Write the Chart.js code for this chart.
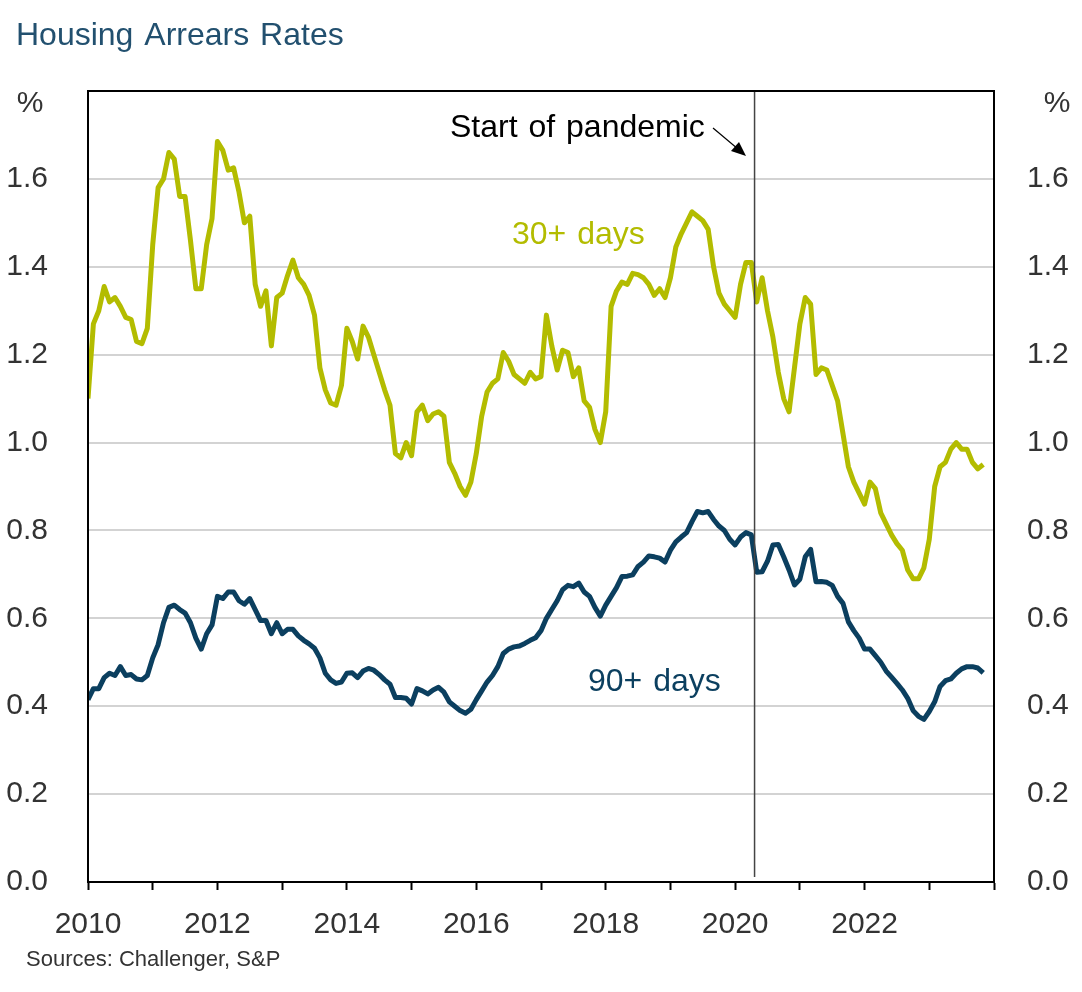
<!DOCTYPE html>
<html>
<head>
<meta charset="utf-8">
<script src="https://cdn.jsdelivr.net/npm/chart.js@4.4.1/dist/chart.umd.min.js"></script>
<style>
  html, body { margin: 0; padding: 0; background: #fff; }
  #wrap { width: 1082px; height: 992px; }
</style>
</head>
<body>
<div id="wrap"><canvas id="myChart" width="1082" height="992"></canvas></div>
<script>
// monthly, Jan 2010 onwards
const startYear = 2010;

const arrears30 = [
  1.10, 1.27, 1.30, 1.355, 1.32, 1.33, 1.31, 1.285, 1.28, 1.23, 1.225, 1.26,
  1.45, 1.58, 1.60, 1.66, 1.645, 1.56, 1.56, 1.46, 1.35, 1.35, 1.45, 1.51,
  1.685, 1.665, 1.62, 1.625, 1.57, 1.50, 1.515, 1.36, 1.31, 1.345, 1.22, 1.33,
  1.34, 1.38, 1.415, 1.375, 1.36, 1.335, 1.29, 1.17, 1.12, 1.09, 1.085, 1.13,
  1.26, 1.23, 1.19, 1.265, 1.24, 1.20, 1.16, 1.12, 1.085, 0.975, 0.965, 1.00,
  0.97, 1.07, 1.085, 1.05, 1.065, 1.07, 1.06, 0.955, 0.93, 0.90, 0.88, 0.91,
  0.975, 1.06, 1.115, 1.135, 1.145, 1.205, 1.185, 1.155, 1.145, 1.135, 1.16, 1.145,
  1.15, 1.29, 1.22, 1.165, 1.21, 1.205, 1.15, 1.17, 1.095, 1.08, 1.03, 1.00,
  1.07, 1.31, 1.345, 1.365, 1.36, 1.385, 1.382, 1.375, 1.36, 1.335, 1.35, 1.33,
  1.375, 1.445, 1.475, 1.50, 1.525, 1.515, 1.505, 1.485, 1.40, 1.34, 1.315, 1.30,
  1.285, 1.36, 1.41, 1.41, 1.32, 1.375, 1.30, 1.24, 1.16, 1.10, 1.07, 1.17,
  1.27, 1.33, 1.315, 1.155, 1.17, 1.165, 1.13, 1.095, 1.02, 0.945, 0.91, 0.885,
  0.86, 0.91, 0.895, 0.84, 0.815, 0.79, 0.77, 0.755, 0.71, 0.69, 0.69, 0.715,
  0.78, 0.90, 0.945, 0.955, 0.985, 1.00, 0.985, 0.985, 0.955, 0.94, 0.95
];

const arrears90 = [
  0.415, 0.44, 0.44, 0.465, 0.475, 0.47, 0.49, 0.47, 0.472, 0.462, 0.46, 0.47,
  0.51, 0.54, 0.59, 0.625, 0.63, 0.62, 0.612, 0.59, 0.555, 0.53, 0.565, 0.585,
  0.65, 0.645, 0.66, 0.66, 0.64, 0.632, 0.645, 0.62, 0.595, 0.595, 0.565, 0.59,
  0.565, 0.575, 0.575, 0.56, 0.55, 0.542, 0.532, 0.51, 0.475, 0.46, 0.452, 0.455,
  0.475, 0.476, 0.465, 0.48, 0.486, 0.482, 0.472, 0.46, 0.45, 0.42, 0.42, 0.418,
  0.405, 0.44, 0.435, 0.428, 0.437, 0.443, 0.432, 0.41, 0.40, 0.39, 0.384, 0.393,
  0.415, 0.435, 0.455, 0.47, 0.49, 0.52, 0.53, 0.535, 0.537, 0.543, 0.55, 0.556,
  0.572, 0.60, 0.62, 0.64, 0.665, 0.675, 0.672, 0.68, 0.66, 0.65, 0.625, 0.605,
  0.63, 0.65, 0.67, 0.695, 0.696, 0.699, 0.718, 0.728, 0.742, 0.74, 0.737, 0.728,
  0.755, 0.774, 0.785, 0.795, 0.82, 0.843, 0.84, 0.843, 0.825, 0.81, 0.80, 0.78,
  0.767, 0.785, 0.795, 0.79, 0.705, 0.706, 0.73, 0.767, 0.768, 0.74, 0.71, 0.676,
  0.689, 0.74, 0.757, 0.683, 0.684, 0.682, 0.675, 0.65, 0.634, 0.592, 0.572, 0.555,
  0.53, 0.53, 0.515, 0.50, 0.48, 0.466, 0.452, 0.437, 0.418, 0.39, 0.377, 0.37,
  0.388, 0.41, 0.445, 0.458, 0.462, 0.475, 0.485, 0.49, 0.49, 0.487, 0.476
];

// decimal year for each month
const months = arrears30.map((_, i) => startYear + i / 12);

const xMin = 2010, xMax = 2024;
const yMin = 0, yMax = 1.8, yStep = 0.2;
const yearLabels = [2010, 2012, 2014, 2016, 2018, 2020, 2022];
const pandemicStart = 2020 + 3.6 / 12;

const FONT = "'Liberation Sans', Arial, sans-serif";
const olive = '#b3bc00';
const navy = '#0b3f5f';

function toPoints(vals) {
  return vals.map((v, i) => ({ x: months[i], y: v }));
}

const extras = {
  id: 'extras',
  afterDatasetsDraw(chart) {
    const ctx = chart.ctx;
    const a = chart.chartArea;
    const xs = chart.scales.x;
    ctx.save();

    // pandemic marker
    const px = xs.getPixelForValue(pandemicStart);
    ctx.strokeStyle = '#444';
    ctx.lineWidth = 1.5;
    ctx.beginPath();
    ctx.moveTo(px, a.top);
    ctx.lineTo(px, a.bottom - 5);
    ctx.stroke();

    // box
    ctx.strokeStyle = '#000';
    ctx.lineWidth = 2;
    ctx.strokeRect(a.left, a.top, a.right - a.left, a.bottom - a.top);

    // arrow
    ctx.strokeStyle = '#000';
    ctx.lineWidth = 1.2;
    ctx.beginPath();
    ctx.moveTo(713, 128);
    ctx.lineTo(738, 149);
    ctx.stroke();
    ctx.fillStyle = '#000';
    ctx.beginPath();
    ctx.moveTo(746, 156);
    ctx.lineTo(731, 151);
    ctx.lineTo(739, 142);
    ctx.closePath();
    ctx.fill();

    if ('wordSpacing' in ctx) ctx.wordSpacing = '2px';
    ctx.textBaseline = 'alphabetic';
    ctx.textAlign = 'left';
    ctx.font = '32px ' + FONT;
    ctx.fillStyle = '#000';
    ctx.fillText('Start of pandemic', 450, 137);
    ctx.fillStyle = olive;
    ctx.fillText('30+ days', 512, 244);
    ctx.fillStyle = navy;
    ctx.fillText('90+ days', 588, 691);

    // title & source
    ctx.fillStyle = '#22506f';
    ctx.font = '32px ' + FONT;
    ctx.fillText('Housing Arrears Rates', 16, 45);
    if ('wordSpacing' in ctx) ctx.wordSpacing = '0px';
    ctx.fillStyle = '#333';
    ctx.font = '22px ' + FONT;
    ctx.fillText('Sources: Challenger, S&P', 26, 966);

    // unit labels
    ctx.font = '30px ' + FONT;
    ctx.textAlign = 'center';
    ctx.fillText('%', 30, 112);
    ctx.fillText('%', 1057, 112);
    ctx.restore();
  }
};

const yTick = (v) => Math.abs(v - yMax) < 1e-6 ? '' : v.toFixed(1);

new Chart(document.getElementById('myChart').getContext('2d'), {
  type: 'line',
  data: {
    datasets: [
      {
        label: '30+ days',
        data: toPoints(arrears30),
        borderColor: olive,
        borderWidth: 5,
        pointRadius: 0,
        tension: 0,
        borderJoinStyle: 'round',
        yAxisID: 'y'
      },
      {
        label: '90+ days',
        data: toPoints(arrears90),
        borderColor: navy,
        borderWidth: 5,
        pointRadius: 0,
        tension: 0,
        borderJoinStyle: 'round',
        yAxisID: 'y'
      }
    ]
  },
  options: {
    responsive: false,
    animation: false,
    layout: { padding: { top: 91, bottom: 50, left: 0, right: 0 } },
    plugins: { legend: { display: false }, tooltip: { enabled: false } },
    scales: {
      x: {
        type: 'linear',
        min: xMin,
        max: xMax,
        afterFit: (s) => { s.height = 60; },
        afterBuildTicks: (s) => {
          const t = [];
          for (let yr = xMin; yr <= xMax; yr++) t.push({ value: yr });
          s.ticks = t;
        },
        ticks: {
          autoSkip: false,
          maxRotation: 0,
          padding: 17,
          color: '#333',
          font: { family: FONT, size: 30 },
          callback: (v) => yearLabels.includes(v) ? String(v) : ''
        },
        grid: {
          drawOnChartArea: false,
          drawTicks: true,
          tickLength: 8,
          tickColor: '#000',
          tickWidth: 2
        },
        border: { display: true, color: '#000', width: 2 }
      },
      y: {
        position: 'left',
        min: yMin,
        max: yMax,
        afterFit: (s) => { s.width = 88; },
        ticks: {
          stepSize: yStep,
          padding: 40,
          color: '#333',
          font: { family: FONT, size: 30 },
          callback: yTick
        },
        grid: { color: '#d3d3d3', lineWidth: 2, drawTicks: false },
        border: { display: true, color: '#000', width: 2 }
      },
      y2: {
        position: 'right',
        min: yMin,
        max: yMax,
        afterFit: (s) => { s.width = 88; },
        ticks: {
          stepSize: yStep,
          padding: 33,
          color: '#333',
          font: { family: FONT, size: 30 },
          callback: yTick
        },
        grid: { drawOnChartArea: false, drawTicks: false },
        border: { display: true, color: '#000', width: 2 }
      }
    }
  },
  plugins: [extras]
});
</script>
</body>
</html>
